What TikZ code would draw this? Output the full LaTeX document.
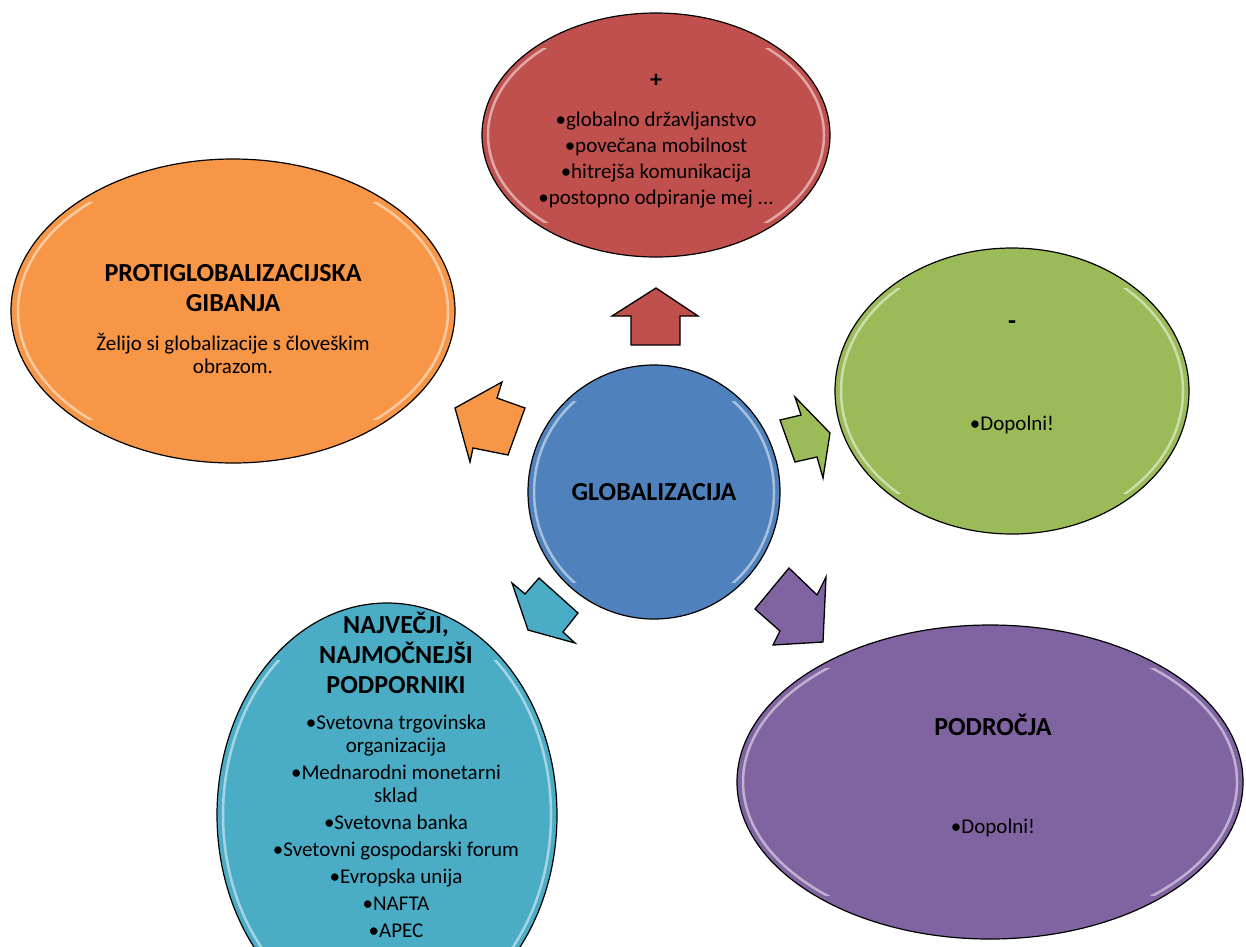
\documentclass[tikz,border=0pt]{standalone}
\usepackage{fontspec}
\setmainfont{Carlito}
\usetikzlibrary{shapes.geometric}
\definecolor{cred}{HTML}{C0504D}
\definecolor{corange}{HTML}{F79646}
\definecolor{cgreen}{HTML}{9BBB59}
\definecolor{ccyan}{HTML}{4BACC6}
\definecolor{cpurple}{HTML}{8064A2}
\definecolor{cblue}{HTML}{4F81BD}
\tikzset{
  bubble/.style={ellipse, draw=black, line width=1.2pt, inner sep=0pt},
  gloss/.style={draw=white, draw opacity=0.5, line width=2.5pt},
  blockarrow/.style={draw=black, line width=1.3pt, line join=miter},
  ttl/.style={font=\fontsize{26}{30}\selectfont\bfseries, align=center, inner sep=0pt},
  txt/.style={font=\fontsize{21}{23}\selectfont, align=center, inner sep=0pt},
  btxt/.style={font=\fontsize{21}{26}\selectfont, align=center, inner sep=0pt},
  pics/shine/.style args={#1/#2}{code={
    \begin{scope}
      \clip (-#1-6,-0.75*#2) rectangle (#1+6,0.75*#2);
      \draw[gloss] (0,0) ellipse [x radius=#1, y radius=#2];
    \end{scope}
  }},
}
\begin{document}
\begin{tikzpicture}[x=1pt,y=-1pt]
\useasboundingbox (0,0) rectangle (1246,946);
\clip (0,0) rectangle (1246,946);
\fill[white] (0,0) rectangle (1246,946);

% ellipses
\node[bubble, fill=cred, minimum width=348pt, minimum height=244pt] (plus) at (656,135) {};
\pic at (656,135) {shine={168/116}};
\node[bubble, fill=corange, minimum width=444pt, minimum height=304pt] (anti) at (233,311) {};
\pic at (233,311) {shine={215/145}};
\node[bubble, fill=cgreen, minimum width=354pt, minimum height=286pt] (minus) at (1012,391) {};
\pic at (1012,391) {shine={171/137}};
\node[bubble, fill=ccyan, minimum width=340pt, minimum height=424pt] (supp) at (387,815) {};
\pic at (387,815) {shine={164/206}};
\node[bubble, fill=cpurple, minimum width=506pt, minimum height=314pt] (areas) at (990,782) {};
\pic at (990,782) {shine={247/151}};
\node[bubble, fill=cblue, minimum width=252pt, minimum height=254pt,
      font=\fontsize{26}{30}\selectfont\bfseries] (glob) at (654,492) {GLOBALIZACIJA};
\pic at (654,492) {shine={120/121}};

% block arrows
\draw[blockarrow, fill=cred] (656,288) -- (698,316) -- (680,316) -- (680,345) -- (631,345) -- (631,316) -- (612,316) -- cycle;
\draw[blockarrow, fill=corange] (455,408) -- (502,382) -- (497,398) -- (525,408) -- (508,455) -- (473,448) -- (470,462) -- cycle;
\draw[blockarrow, fill=cgreen] (830,433) -- (795,397) -- (801,415) -- (780,420) -- (795,462) -- (817,457) -- (823,478) -- cycle;
\draw[blockarrow, fill=ccyan] (528,630) -- (512,583) -- (525,594) -- (539,578) -- (578,613) -- (563,632) -- (575,643) -- cycle;
\draw[blockarrow, fill=cpurple] (823,642) -- (773,645) -- (780,631) -- (755,609) -- (789,568) -- (817,595) -- (826,577) -- cycle;

% texts
\node[btxt] (plustxt) at (656,141) {{\fontsize{24}{26}\selectfont\bfseries +}\\[13pt]•globalno državljanstvo\\•povečana mobilnost\\•hitrejša komunikacija\\•postopno odpiranje mej ...};
\node[ttl] (antittl) at (233,288) {PROTIGLOBALIZACIJSKA\\GIBANJA};
\node[txt] (antitxt) at (233,353) {Želijo si globalizacije s človeškim\\obrazom.};
\node[ttl] (minusttl) at (1012,325) {-};
\node[btxt] (minustxt) at (1012,425) {•Dopolni!};
\node[ttl] (areasttl) at (993,725) {PODROČJA};
\node[btxt] (areastxt) at (993,828) {•Dopolni!};
\node[ttl] (suppttl) at (396,653) {NAJVEČJI,\\NAJMOČNEJŠI\\PODPORNIKI};
\node[txt] (supptxt) at (396,826) {•Svetovna trgovinska\\organizacija\\[4pt]•Mednarodni monetarni\\sklad\\[4pt]•Svetovna banka\\[4pt]•Svetovni gospodarski forum\\[4pt]•Evropska unija\\[4pt]•NAFTA\\[4pt]•APEC};
\end{tikzpicture}
\end{document}
